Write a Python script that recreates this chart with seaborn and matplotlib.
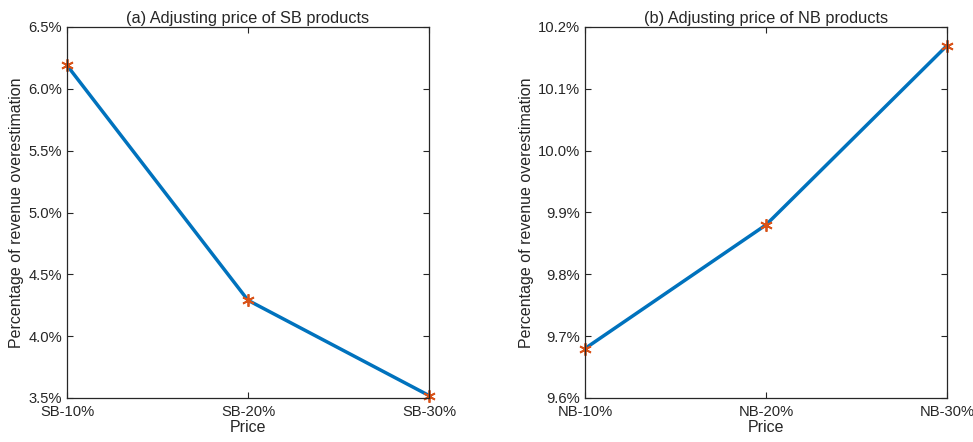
import matplotlib
matplotlib.use("Agg")
import matplotlib.pyplot as plt
import seaborn as sns
from matplotlib.ticker import FuncFormatter

# data (percent)
sb_labels = ["SB-10%", "SB-20%", "SB-30%"]
sb_values = [6.19, 4.29, 3.52]
nb_labels = ["NB-10%", "NB-20%", "NB-30%"]
nb_values = [9.68, 9.88, 10.17]

sns.set_style("ticks")
plt.rcParams['font.family'] = ['Liberation Sans', 'DejaVu Sans']
plt.rcParams['axes.edgecolor'] = '#262626'
plt.rcParams['xtick.color'] = '#262626'
plt.rcParams['ytick.color'] = '#262626'

fig = plt.figure(figsize=(9.73, 4.42), dpi=100)
ax1 = fig.add_axes([67 / 973, 1 - 398 / 442, 362 / 973, 371 / 442])
ax2 = fig.add_axes([585 / 973, 1 - 398 / 442, 362 / 973, 371 / 442])

panels = [
    (ax1, sb_labels, sb_values, "(a) Adjusting price of SB products", (3.5, 6.5), [3.5, 4.0, 4.5, 5.0, 5.5, 6.0, 6.5]),
    (ax2, nb_labels, nb_values, "(b) Adjusting price of NB products", (9.6, 10.2), [9.6, 9.7, 9.8, 9.9, 10.0, 10.1, 10.2]),
]

for ax, labels, values, title, ylim, yticks in panels:
    sns.lineplot(x=labels, y=values, ax=ax, color='#0072BD', linewidth=2.5, sort=False,
                 marker=(6, 2, 0), markersize=9, markeredgecolor='#D95319',
                 markerfacecolor='#D95319', markeredgewidth=1.3, clip_on=False)
    ax.set_xlim(0, 2)
    ax.set_ylim(*ylim)
    ax.set_yticks(yticks)
    ax.yaxis.set_major_formatter(FuncFormatter(lambda v, p: f"{v:.1f}%"))
    ax.set_title(title, fontsize=11.8, pad=3)
    ax.set_xlabel("Price", fontsize=11.5, labelpad=1)
    ax.set_ylabel("Percentage of revenue overestimation", fontsize=11.5, labelpad=3)
    ax.tick_params(direction='in', top=True, right=True, labelsize=10.6, length=4, width=0.8)
    ax.tick_params(axis='x', pad=5)
    for s in ax.spines.values():
        s.set_visible(True)
        s.set_linewidth(0.9)

plt.savefig("out.png", dpi=100)
